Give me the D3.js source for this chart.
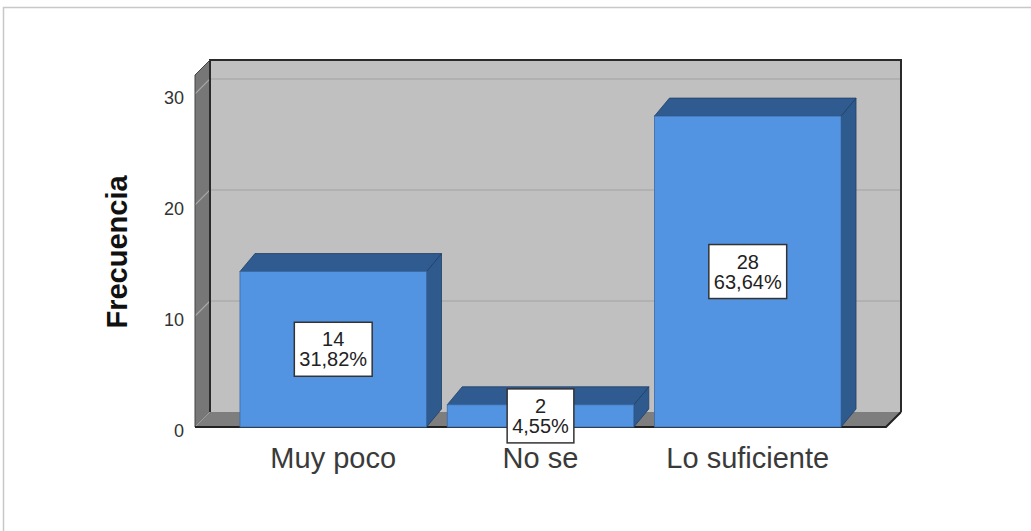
<!DOCTYPE html>
<html><head><meta charset="utf-8">
<script src="https://cdn.jsdelivr.net/npm/d3@7"></script>
<style>html,body{margin:0;padding:0;background:#fff;}svg{display:block;}</style>
</head><body>
<svg id="c" width="1031" height="531"></svg>
<script>
const categories = ["Muy poco", "No se", "Lo suficiente"];
const counts = [14, 2, 28];
const percents = ["31,82%", "4,55%", "63,64%"];
const yTicks = [0, 10, 20, 30];
const yTitle = "Frecuencia";

const svg = d3.select("#c");
const font = "'Liberation Sans', Arial, sans-serif";

// frame
svg.append("path").attr("d","M3.5,540 V7.5 H1040").attr("fill","none").attr("stroke","#c8c8c8").attr("stroke-width",1.5);

const front = {x0:195, x1:886, yb:427};
const wd = {dx:15, dy:15};
const bd = {dx:15, dy:18};
const y = d3.scaleLinear().domain([0,31.7]).range([427,75]);
const x = d3.scaleBand().domain(categories).range([front.x0, front.x1]).paddingInner(0.1).paddingOuter(0.217);

const yTop = y.range()[1];
// back wall
svg.append("rect").attr("x",front.x0+wd.dx).attr("y",yTop-wd.dy)
  .attr("width",front.x1-front.x0).attr("height",front.yb-yTop)
  .attr("fill","#c0c0c0");
// left wall
svg.append("polygon").attr("points",[[front.x0,yTop],[front.x0+wd.dx,yTop-wd.dy],[front.x0+wd.dx,front.yb-wd.dy],[front.x0,front.yb]].join(" "))
  .attr("fill","#777");
// floor
svg.append("polygon").attr("points",[[front.x0,front.yb],[front.x1,front.yb],[front.x1+wd.dx,front.yb-wd.dy],[front.x0+wd.dx,front.yb-wd.dy]].join(" "))
  .attr("fill","#7e7e7e");
// gridlines
yTicks.filter(v=>v>0).forEach(v=>{
  svg.append("line").attr("x1",front.x0+wd.dx).attr("x2",front.x1+wd.dx)
    .attr("y1",y(v)-wd.dy).attr("y2",y(v)-wd.dy).attr("stroke","#adadad").attr("stroke-width",1.5);
  svg.append("line").attr("x1",front.x0).attr("x2",front.x0+wd.dx)
    .attr("y1",y(v)).attr("y2",y(v)-wd.dy).attr("stroke","#a8a8a8").attr("stroke-width",1.2);
});
// wall edges
svg.append("path").attr("d",`M${front.x0+wd.dx},${front.yb-wd.dy} V${yTop-wd.dy} H${front.x1+wd.dx} V${front.yb-wd.dy}`)
  .attr("fill","none").attr("stroke","#2a2a2a").attr("stroke-width",2);
svg.append("path").attr("d",`M${front.x0},${front.yb} V${yTop} L${front.x0+wd.dx},${yTop-wd.dy}`)
  .attr("fill","none").attr("stroke","#444").attr("stroke-width",1);
svg.append("path").attr("d",`M${front.x0},${front.yb} H${front.x1} L${front.x1+wd.dx},${front.yb-wd.dy}`)
  .attr("fill","none").attr("stroke","#222").attr("stroke-width",2);

// y tick labels
svg.append("g").selectAll("text").data(yTicks).join("text")
  .attr("x",184).attr("y",d=>y(d)+4).attr("text-anchor","end").attr("dominant-baseline","central")
  .attr("font-family",font).attr("font-size",18).attr("fill","#333").text(d=>d);

// y title
svg.append("text").attr("transform","translate(127,252) rotate(-90)").attr("text-anchor","middle")
  .attr("font-family",font).attr("font-weight","bold").attr("font-size",29).attr("fill","#111").text(yTitle);

// bars
const data = categories.map((c,i)=>({c, v:counts[i], p:percents[i]}));
const gb = svg.append("g");
data.forEach(d=>{
  const x0 = x(d.c), x1 = x(d.c)+x.bandwidth(), yt = y(d.v), yb = front.yb;
  gb.append("polygon").attr("points",[[x1,yt],[x1+bd.dx,yt-bd.dy],[x1+bd.dx,yb-bd.dy],[x1,yb]].join(" "))
    .attr("fill","#2e5a8e").attr("stroke","#203f66").attr("stroke-width",0.8);
  gb.append("polygon").attr("points",[[x0,yt],[x1,yt],[x1+bd.dx,yt-bd.dy],[x0+bd.dx,yt-bd.dy]].join(" "))
    .attr("fill","#305b90").attr("stroke","#203f66").attr("stroke-width",0.8);
  gb.append("rect").attr("x",x0).attr("y",yt).attr("width",x1-x0).attr("height",yb-yt)
    .attr("fill","#5394e2").attr("stroke","#3a6aa5").attr("stroke-width",0.8);
});

// value labels
data.forEach(d=>{
  const cx = x(d.c)+x.bandwidth()/2, cy = (y(d.v)+front.yb)/2;
  const g = svg.append("g");
  const r = g.append("rect").attr("fill","#fff").attr("stroke","#333").attr("stroke-width",1.5);
  const t1 = g.append("text").attr("x",cx).attr("y",cy-10).attr("text-anchor","middle").attr("dominant-baseline","central")
    .attr("font-family",font).attr("font-size",20).attr("fill","#222").text(d.v);
  const t2 = g.append("text").attr("x",cx).attr("y",cy+10).attr("text-anchor","middle").attr("dominant-baseline","central")
    .attr("font-family",font).attr("font-size",20).attr("fill","#222").text(d.p);
  const w = Math.max(t1.node().getComputedTextLength(), t2.node().getComputedTextLength()) + 10;
  r.attr("x",cx-w/2).attr("y",cy-27).attr("width",w).attr("height",54);
});

// category labels
svg.append("g").selectAll("text").data(categories).join("text")
  .attr("x",d=>x(d)+x.bandwidth()/2).attr("y",468).attr("text-anchor","middle")
  .attr("font-family",font).attr("font-size",29).attr("fill","#3a3a3a").text(d=>d);
</script>
</body></html>
